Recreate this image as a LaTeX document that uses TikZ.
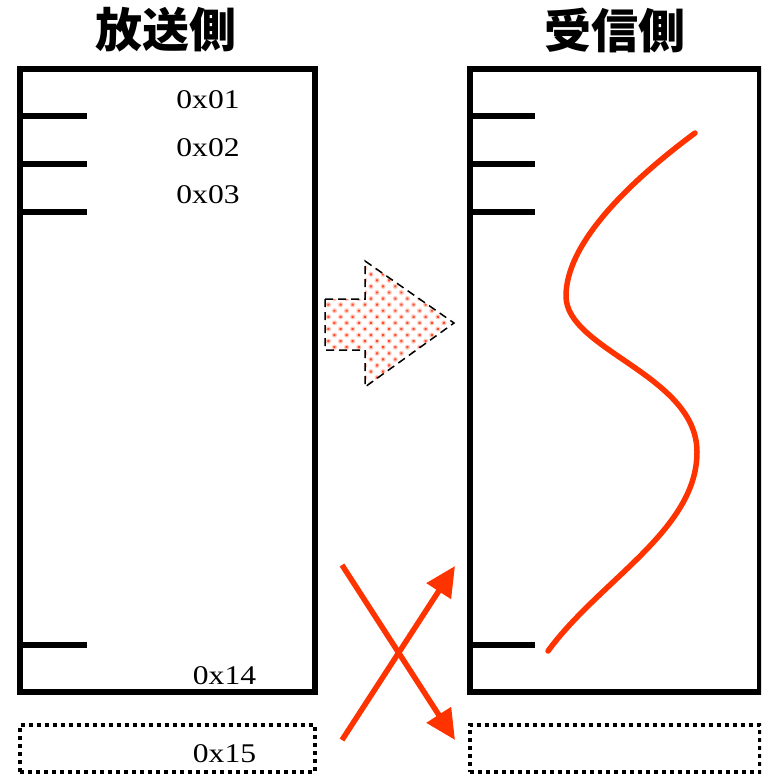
\documentclass[tikz,border=0pt]{standalone}
\usepackage{fontspec}
\usetikzlibrary{arrows.meta,patterns.meta}
\newfontfamily\cjk{Noto Sans CJK JP}
\newfontfamily\hexfont[FakeStretch=1.17]{Liberation Serif}
\definecolor{sigred}{HTML}{FF3300}
\definecolor{dotred}{HTML}{FF4A2A}
\definecolor{halo}{HTML}{FFC8BC}
\tikzset{
  membox/.style={draw=black, line width=5.5pt, minimum width=295pt, minimum height=623pt, inner sep=0pt, outer sep=0pt},
  rxbox/.style={membox, minimum width=290pt},
  dotbox/.style={draw=black, line width=4pt, dash pattern=on 4pt off 4pt, minimum height=47pt, inner sep=0pt, outer sep=0pt},
  tick/.style={draw=black, line width=5.5pt},
  hexlabel/.style={font=\hexfont\fontsize{27}{28}\selectfont, inner sep=0pt},
  title/.style={font=\cjk\bfseries\fontsize{47}{50}\selectfont, inner sep=0pt},
  redline/.style={draw=sigred, line width=5.5pt},
  redarrow/.style={redline, -{Triangle[length=30pt,width=28pt]}},
  haloarrow/.style={pattern={Dots[distance=8.6pt,angle=45,radius=2.6pt]}, pattern color=halo},
  blockarrow/.style={draw=black, line width=1.5pt, dash pattern=on 8pt off 5pt, pattern={Dots[distance=8.6pt,angle=45,radius=1.4pt]}, pattern color=dotred}
}
\begin{document}
\begin{tikzpicture}[x=1pt,y=-1pt]
\useasboundingbox (0,0) rectangle (761,779);
\begin{scope}
\clip (0,0) rectangle (761,779);
% titles
\node[title] (ttx) at (166,30) {放送側};
\node[title] (trx) at (615,30) {受信側};
% main boxes
\node[membox] (tx) at (167.5,380.5) {};
\node[rxbox] (rx) at (615,380.5) {};
% dotted boxes
\node[dotbox, minimum width=295pt] (txx) at (167.5,748.5) {};
\node[dotbox, minimum width=290pt] (rxx) at (615,748.5) {};
% ticks
\foreach \yy/\nm in {116/a,164/b,212/c,645/d}{
  \coordinate (ts\nm) at (20,\yy);
  \coordinate (te\nm) at (87,\yy);
  \draw[tick] (ts\nm) -- (te\nm);
  \coordinate (rs\nm) at (470,\yy);
  \coordinate (re\nm) at (535,\yy);
  \draw[tick] (rs\nm) -- (re\nm);
}
% labels
\node[hexlabel] (l1) at (208,100) {0x01};
\node[hexlabel] (l2) at (208,148) {0x02};
\node[hexlabel] (l3) at (208,195) {0x03};
\node[hexlabel] (l14) at (224.5,676) {0x14};
\node[hexlabel] (l15) at (224.5,754) {0x15};
% block arrow
\path[haloarrow] (325,299) -- (365,299) -- (365,261) -- (454,323) -- (365,387) -- (365,350) -- (325,350) -- cycle;
\draw[blockarrow] (325,299) -- (365,299) -- (365,261) -- (454,323) -- (365,387) -- (365,350) -- (325,350) -- cycle;
% red curve
\coordinate (c0) at (695,133);
\coordinate (c1) at (566,296);
\coordinate (c2) at (697,452);
\coordinate (c3) at (548,651);
\draw[redline, line cap=round] (c0) .. controls (625,185) and (566,245) .. (c1)
  .. controls (566,350) and (697,375) .. (c2)
  .. controls (697,530) and (600,580) .. (c3);
% crossing arrows
\coordinate (a1s) at (342,565);
\coordinate (a1e) at (455,740);
\coordinate (a2s) at (342,740);
\coordinate (a2e) at (455,566);
\draw[redarrow] (a1s) -- (a1e);
\draw[redarrow] (a2s) -- (a2e);
\end{scope}
\end{tikzpicture}
\end{document}
